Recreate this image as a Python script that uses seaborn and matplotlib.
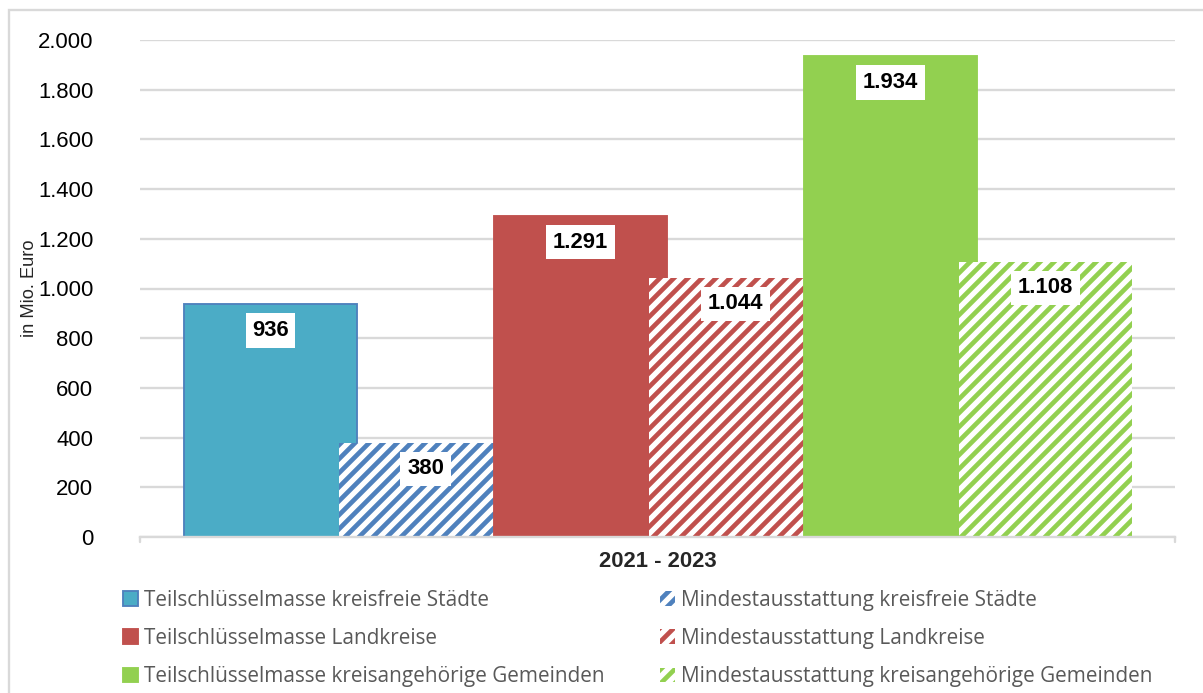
import matplotlib
matplotlib.use('Agg')
import matplotlib.pyplot as plt
import seaborn as sns
import pandas as pd
from matplotlib.patches import Patch, Rectangle

# data
series = [
    'Teilschlüsselmasse kreisfreie Städte',
    'Mindestausstattung kreisfreie Städte',
    'Teilschlüsselmasse Landkreise',
    'Mindestausstattung Landkreise',
    'Teilschlüsselmasse kreisangehörige Gemeinden',
    'Mindestausstattung kreisangehörige Gemeinden',
]
values = [936, 380, 1291, 1044, 1934, 1108]
value_labels = ['936', '380', '1.291', '1.044', '1.934', '1.108']
hatched = [False, True, False, True, False, True]
colors = ['#4bacc6', '#4f81bd', '#c0504d', '#c0504d', '#92d050', '#92d050']
yticks = [0, 200, 400, 600, 800, 1000, 1200, 1400, 1600, 1800, 2000]
ytick_labels = ['0', '200', '400', '600', '800', '1.000', '1.200', '1.400',
                '1.600', '1.800', '2.000']
period = '2021 - 2023'

DPI = 168
sns.set_theme(style='white')
plt.rcParams['font.family'] = ['Liberation Sans', 'DejaVu Sans']
plt.rcParams['hatch.linewidth'] = 2.0

fig = plt.figure(figsize=(1203 / DPI, 693 / DPI), dpi=DPI)
ax = fig.add_axes([140 / 1203, 1 - 537 / 693, 1035 / 1203, 497 / 693])

df = pd.DataFrame({'series': series, 'value': values})
sns.barplot(data=df, x='series', y='value', hue='series', palette=colors,
            width=1.116, dodge=False, legend=False, saturation=1, ax=ax)

# style the bars: solid ones with a thin edge, Mindestausstattung hatched
patches = sorted(ax.patches, key=lambda p: p.get_x())
for i, p in enumerate(patches):
    p.set_zorder(2 + i * 0.01)
    if hatched[i]:
        p.set_facecolor('white')
        p.set_edgecolor(colors[i])
        p.set_hatch('////')
        p.set_linewidth(0)
    else:
        p.set_facecolor(colors[i])
        p.set_edgecolor('#4f81bd' if i == 0 else colors[i])
        p.set_linewidth(0.8)

# value labels in white boxes
for i, p in enumerate(patches):
    xc = p.get_x() + p.get_width() / 2
    ax.text(xc, values[i] - 105, value_labels[i], ha='center', va='center',
            fontsize=9.5, fontweight='bold', color='black', zorder=5,
            bbox=dict(boxstyle='square,pad=0.3', fc='white', ec='none'))

ax.set_ylim(0, 2000)
ax.set_xlim(-0.842, 5.835)
ax.set_yticks(yticks)
ax.set_yticklabels(ytick_labels, fontsize=9.5, color='black')
ax.set_xticks([])
ax.yaxis.grid(True, color='#d9d9d9', linewidth=1.0, zorder=0)
ax.set_axisbelow(True)
for s in ['top', 'right', 'left']:
    ax.spines[s].set_visible(False)
ax.spines['bottom'].set_color('#d9d9d9')
ax.spines['bottom'].set_linewidth(1.0)
ax.tick_params(axis='y', length=0, pad=20)

# small end ticks on the category axis
for xe in [-0.842, 5.835]:
    ax.plot([xe, xe], [0, -22], color='#d9d9d9', lw=1.0, clip_on=False)

ax.set_xlabel(period, fontsize=9.5, fontweight='bold', labelpad=6)
ax.set_ylabel('in Mio. Euro', fontsize=7.8)
ax.yaxis.set_label_coords(-0.099, 0.5)

# legend
handles = []
for i in range(6):
    if hatched[i]:
        handles.append(Patch(facecolor='white', edgecolor=colors[i], hatch='////', linewidth=0))
    else:
        handles.append(Patch(facecolor=colors[i],
                             edgecolor='#4f81bd' if i == 0 else colors[i], linewidth=0.8))
order = [0, 2, 4, 1, 3, 5]
leg = fig.legend([handles[k] for k in order], [series[k] for k in order],
                 ncol=2, loc='upper left', bbox_to_anchor=(123 / 1203, 1 - 590 / 693),
                 frameon=False, prop={'family': 'Open Sans', 'size': 8.9},
                 handlelength=0.7, handleheight=0.7, handletextpad=0.3,
                 labelspacing=0.82, columnspacing=2.7, borderpad=0, borderaxespad=0)
for t in leg.get_texts():
    t.set_color('#595959')

# outer frame
fig.patches.append(Rectangle((9 / 1203, -0.05), 1.2, 1 - 10 / 693 + 0.05,
                             transform=fig.transFigure, fill=False,
                             edgecolor='#d9d9d9', linewidth=1.0))

fig.savefig('out.png', dpi=DPI)
